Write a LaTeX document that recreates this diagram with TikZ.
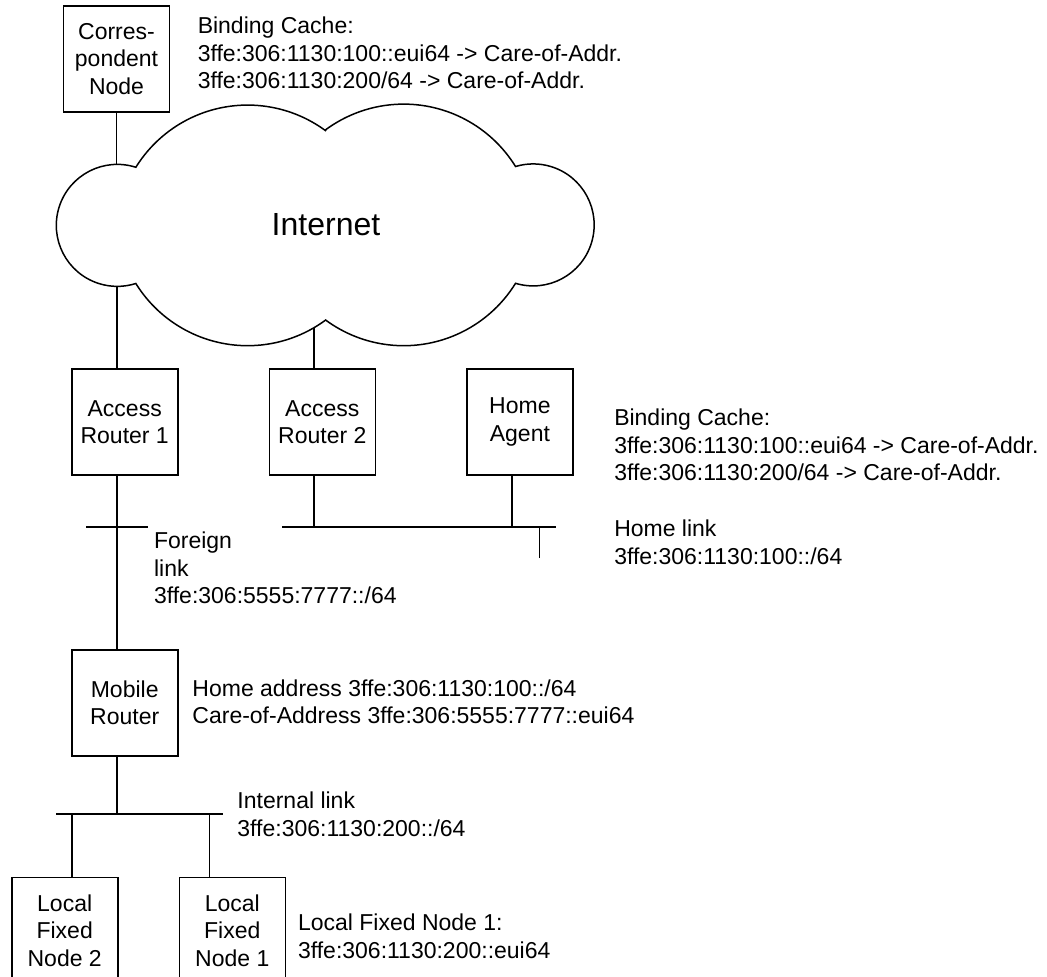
\documentclass[tikz,border=0pt]{standalone}
\usepackage{fontspec}
\setmainfont{Liberation Sans}
\usetikzlibrary{positioning}
\tikzset{
	box/.style={draw, line width=1.6pt, minimum width=106pt, minimum height=106pt, inner sep=0pt, align=center},
	note/.style={anchor=north west, inner sep=0pt, align=left},
}
\begin{document}
\begin{tikzpicture}[x=1pt, y=-1pt, line width=1.5pt, font=\fontsize{23}{27.5}\selectfont]
	\useasboundingbox (0,0) rectangle (1047,977);
	% the cloud
	\draw (326,131) arc[start angle=-53.4, end angle=-148.2, radius=131.5]
		arc[start angle=-72.3, end angle=-287.7, radius=61]
		arc[start angle=148.2, end angle=53.6, radius=131.5]
		arc[start angle=126.4, end angle=31.7, radius=131.5]
		arc[start angle=106.8, end angle=-106.8, radius=61]
		arc[start angle=-31.7, end angle=-126.7, radius=131.5] -- cycle;
	\node (inet) [font=\fontsize{32}{38}\selectfont] at (326,225) {Internet};
	\coordinate (cl-nw) at (117,164);
	\coordinate (cl-sw) at (117,286);
	\coordinate (cl-s) at (314,327.5);

	\node (cn) [box] at (116.5,59) {Corres-\\pondent\\Node};
	\node (ar1) [box] at (124.7,422.2) {Access\\Router 1};
	\node (ar2) [box,right=90pt of ar1] {Access\\Router 2};
	\node (ha) [box,right=90pt of ar2] {Home\\Agent};
	\node (mr) [box,below=173pt of ar1] {Mobile\\Router};
	\node (lfn1) [box,anchor=north west] at ([yshift=-120pt]mr.south east) {Local\\Fixed\\Node 1};
	\node (lfn2) [box,left=60pt of lfn1] {Local\\Fixed\\Node 2};

	% links
	\coordinate (fl-w) at (86,527);
	\coordinate (fl-e) at (148,527);
	\coordinate (hl-w) at (282,527);
	\coordinate (hl-e) at (556,527);
	\coordinate (hl-tap) at (539.5,558);
	\coordinate (il-w) at (56,814);
	\coordinate (il-e) at (223,814);

	\draw (cn.south) -- (cn.south |- cl-nw);
	\draw (cl-sw) -- (cl-sw |- ar1.north);
	\draw (cl-s) -- (cl-s |- ar2.north);
	\draw (cl-sw |- ar1.south) -- (cl-sw |- mr.north);
	\draw (fl-w) -- (fl-e);
	\draw (cl-s |- ar2.south) -- (cl-s |- hl-w);
	\draw ([xshift=-8pt]ha.south) -- ([xshift=-8pt]ha.south |- hl-w);
	\draw (hl-w) -- (hl-e);
	\draw (hl-tap) -- (hl-tap |- hl-w);
	\draw (cl-sw |- mr.south) -- (cl-sw |- il-w);
	\draw (il-w) -- (il-e);
	\draw ([xshift=7.5pt]lfn2.north) -- ([xshift=7.5pt]lfn2.north |- il-w);
	\draw ([xshift=-23pt]lfn1.north) -- ([xshift=-23pt]lfn1.north |- il-w);

	% annotations
	\node (cache-cn) [note] at (197,16.5) {Binding Cache:\\3ffe:306:1130:100::eui64 -> Care-of-Addr.\\3ffe:306:1130:200/64 -> Care-of-Addr.};
	\node (cache-ha) [note] at (613.5,408.5) {Binding Cache:\\3ffe:306:1130:100::eui64 -> Care-of-Addr.\\3ffe:306:1130:200/64 -> Care-of-Addr.};
	\node (home-link) [note] at (613.5,519.5) {Home link\\3ffe:306:1130:100::/64};
	\node (foreign-link) [note] at (153.3,531.5) {Foreign\\link\\3ffe:306:5555:7777::/64};
	\node (mr-addr) [note] at (191.7,678.8) {Home address 3ffe:306:1130:100::/64\\Care-of-Address 3ffe:306:5555:7777::eui64};
	\node (int-link) [note] at (236.7,791.5) {Internal link\\3ffe:306:1130:200::/64};
	\node (lfn-addr) [note] at (297.3,913.2) {Local Fixed Node 1:\\3ffe:306:1130:200::eui64};
\end{tikzpicture}
\end{document}
